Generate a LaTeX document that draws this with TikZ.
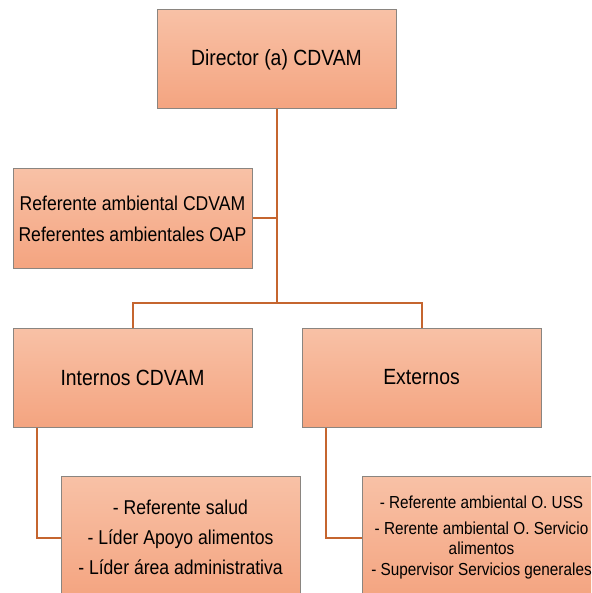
\documentclass[tikz,border=0pt]{standalone}
\usepackage{fontspec}
\setmainfont{Liberation Sans}[FakeStretch=0.88]
\usetikzlibrary{calc}
\usetikzlibrary{positioning}

\definecolor{boxtop}{HTML}{F8C1A6}
\definecolor{boxbot}{HTML}{F4A480}
\definecolor{boxgray}{HTML}{8A8580}
\definecolor{linkbrown}{HTML}{C5652F}

\tikzset{
  orgbox/.style={draw=boxgray, line width=1pt, top color=boxtop, bottom color=boxbot,
    minimum width=239pt, minimum height=99pt, inner sep=0pt, align=center},
  link/.style={draw=linkbrown, line width=2pt},
}

\begin{document}
\begin{tikzpicture}[x=1pt,y=-1pt]
    \useasboundingbox (0,0) rectangle (591,593);
    \clip (0,0) rectangle (591,593);

    % upper levels
    \node[orgbox, font=\fontsize{22}{26}\selectfont] (director) at (276.5,59.5) {Director (a) CDVAM};
    \node[orgbox, font=\fontsize{20}{31}\selectfont] (referente) at (132.5,218.5)
        {Referente ambiental CDVAM\\Referentes ambientales OAP};

    \node[orgbox, font=\fontsize{22}{26}\selectfont] (internos) at (132.5,377.5) {Internos CDVAM};
    \node[orgbox, font=\fontsize{22}{26}\selectfont] (externos) at (421.5,377.5) {Externos};

    % lowest level
    \node[orgbox, minimum height=122pt, anchor=north, font=\fontsize{20}{30}\selectfont] (salud) at (180.5,476)
        {- Referente salud\\- Líder Apoyo alimentos\\- Líder área administrativa};
    \node[orgbox, minimum height=122pt, anchor=north, font=\fontsize{17.4}{20}\selectfont] (uss) at (481.5,476)
        {- Referente ambiental O. USS\\[6pt]- Rerente ambiental O. Servicio\\alimentos\\[1pt]- Supervisor Servicios generales};

    % connectors
    \coordinate (fork) at (276.5,303);
    \draw[link] (director.south) -- (fork);
    \draw[link] (referente.east) -- (referente.east -| fork);
    \draw[link] (internos.north) |- (fork) -| (externos.north);
    \draw[link] ($(internos.south west)+(24,0)$) |- (salud.west);
    \draw[link] ($(externos.south west)+(24,0)$) |- (uss.west);
\end{tikzpicture}
\end{document}
